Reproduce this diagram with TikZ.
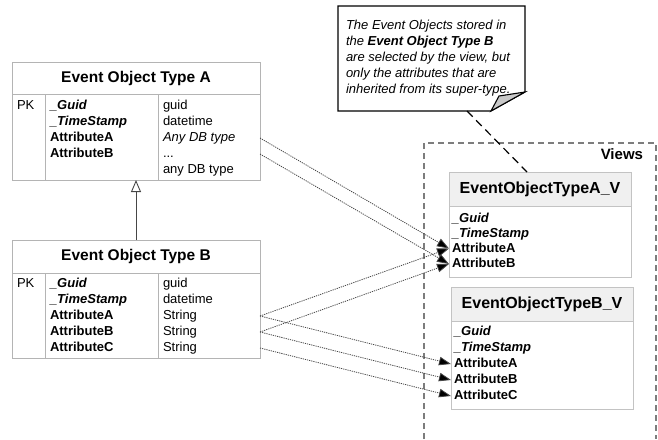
\documentclass[tikz,border=0pt]{standalone}
\usepackage{fontspec}
\setmainfont{Liberation Sans}
\usetikzlibrary{arrows.meta}
\definecolor{boxgray}{RGB}{180,180,180}
\definecolor{viewgray}{RGB}{195,195,195}
\definecolor{headfill}{RGB}{240,240,240}
\definecolor{framegray}{RGB}{125,125,125}
\definecolor{linkgray}{RGB}{70,70,70}
\definecolor{inhgray}{RGB}{70,70,70}
\definecolor{foldgray}{RGB}{200,200,200}
\begin{document}
\begin{tikzpicture}[x=1pt,y=-1pt,inner sep=0pt,outer sep=0pt,
entityhead/.style={draw=boxgray,rectangle,line width=0.6pt,minimum width=248pt,font=\fontsize{15.5}{18}\bfseries\selectfont},
entitybody/.style={draw=boxgray,rectangle,line width=0.6pt,minimum width=248pt,anchor=north},
viewhead/.style={draw=viewgray,fill=headfill,rectangle,line width=0.6pt,minimum width=182pt,minimum height=34pt,font=\fontsize{16}{18}\bfseries\selectfont},
viewbody/.style={draw=viewgray,rectangle,line width=0.6pt,minimum width=182pt,anchor=north},
attr/.style={anchor=west,text height=9.5pt,text depth=2.5pt,font=\fontsize{13}{15}\selectfont},
keyattr/.style={attr,font=\fontsize{13}{15}\bfseries\itshape\selectfont},
nameattr/.style={attr,font=\fontsize{13}{15}\bfseries\selectfont},
divider/.style={draw=boxgray,line width=0.6pt},
mapsto/.style={draw=linkgray,line width=0.8pt,dash pattern=on 1.2pt off 1pt,-{Triangle[length=12pt,width=8.5pt,fill=black]}},
inherits/.style={draw=inhgray,line width=0.9pt,-{Triangle[open,length=12pt,width=10pt]}},
notebox/.style={draw=black,line width=1.1pt,line join=miter},
notelink/.style={draw=black,line width=1.2pt,dash pattern=on 8pt off 5pt}]
\useasboundingbox (0,0) rectangle (658,439);
% Event Object Type A
\draw (136,78) node[entityhead,minimum height=32pt] (Ah) {Event Object Type A};
\draw (Ah.south) node[entitybody,minimum height=86pt] (Ab) {};
\draw[divider] (45,94) -- (45,180);
\draw[divider] (158,94) -- (158,180);
\draw (17,106) node[attr] (Apk) {PK};
\draw (50,106) node[keyattr] (An1) {\_Guid};
\draw (50,122) node[keyattr] (An2) {\_TimeStamp};
\draw (50,138) node[nameattr] (An3) {AttributeA};
\draw (50,154) node[nameattr] (An4) {AttributeB};
\draw (163,106) node[attr] (At1) {guid};
\draw (163,122) node[attr] (At2) {datetime};
\draw (163,138) node[attr,font=\fontsize{13}{15}\itshape\selectfont] (At3) {Any DB type};
\draw (163,154) node[attr] (At4) {...};
\draw (163,170) node[attr] (At5) {any DB type};
% Event Object Type B
\draw (136,256.5) node[entityhead,minimum height=33pt] (Bh) {Event Object Type B};
\draw (Bh.south) node[entitybody,minimum height=85pt] (Bb) {};
\draw[divider] (45,273) -- (45,358);
\draw[divider] (158,273) -- (158,358);
\draw (17,284) node[attr] (Bpk) {PK};
\draw (50,284) node[keyattr] (Bn1) {\_Guid};
\draw (50,300) node[keyattr] (Bn2) {\_TimeStamp};
\draw (50,316) node[nameattr] (Bn3) {AttributeA};
\draw (50,332) node[nameattr] (Bn4) {AttributeB};
\draw (50,348) node[nameattr] (Bn5) {AttributeC};
\draw (163,284) node[attr] (Bt1) {guid};
\draw (163,300) node[attr] (Bt2) {datetime};
\draw (163,316) node[attr] (Bt3) {String};
\draw (163,332) node[attr] (Bt4) {String};
\draw (163,348) node[attr] (Bt5) {String};
\draw[inherits] (Bh.north) -- (Ab.south);
% views
\draw[framegray,line width=1.1pt,dash pattern=on 6pt off 4pt] (424,439) -- (424,143) -- (656,143) -- (656,439);
\draw (643,154) node[anchor=east,font=\fontsize{15}{18}\bfseries\selectfont] (views) {Views};
\draw (540,189) node[viewhead] (VAh) {EventObjectTypeA\_V};
\draw (VAh.south) node[viewbody,minimum height=71pt] (VAb) {};
\draw (452,218.5) node[keyattr] (VAn1) {\_Guid};
\draw (452,234) node[keyattr] (VAn2) {\_TimeStamp};
\draw (452,248.5) node[nameattr] (VAn3) {AttributeA};
\draw (452,264) node[nameattr] (VAn4) {AttributeB};
\draw (542,304) node[viewhead] (VBh) {EventObjectTypeB\_V};
\draw (VBh.south) node[viewbody,minimum height=88pt] (VBb) {};
\draw (454,332) node[keyattr] (VBn1) {\_Guid};
\draw (454,348) node[keyattr] (VBn2) {\_TimeStamp};
\draw (454,364) node[nameattr] (VBn3) {AttributeA};
\draw (454,380) node[nameattr] (VBn4) {AttributeB};
\draw (454,396) node[nameattr] (VBn5) {AttributeC};
% mappings
\draw[mapsto] (Ab.east |- At3) -- (VAb.west |- VAn3);
\draw[mapsto] (Ab.east |- At4) -- (VAb.west |- VAn4);
\draw[mapsto] (Bb.east |- Bt3) -- (VAb.west |- VAn3);
\draw[mapsto] (Bb.east |- Bt4) -- (VAb.west |- VAn4);
\draw[mapsto] (Bb.east |- Bt3) -- (VBb.west |- VBn3);
\draw[mapsto] (Bb.east |- Bt4) -- (VBb.west |- VBn4);
\draw[mapsto] (Bb.east |- Bt5) -- (VBb.west |- VBn5);
% note
\draw[notebox] (338,6) -- (525,6) -- (525,92) -- (491,111) -- (338,111) -- cycle;
\draw[notebox,fill=foldgray] (491,111) -- (499,96) -- (525,92) -- cycle;
\draw (346,58) node[anchor=west,align=left,font=\fontsize{13}{16}\itshape\selectfont] (note) {The Event Objects stored in\\the \textbf{Event Object Type B}\\are selected by the view, but\\only the attributes that are\\inherited from its super-type.};
\coordinate (notefoot) at (467,111);
\draw[notelink] (notefoot) -- ([xshift=-13pt]VAh.north);
\end{tikzpicture}
\end{document}
